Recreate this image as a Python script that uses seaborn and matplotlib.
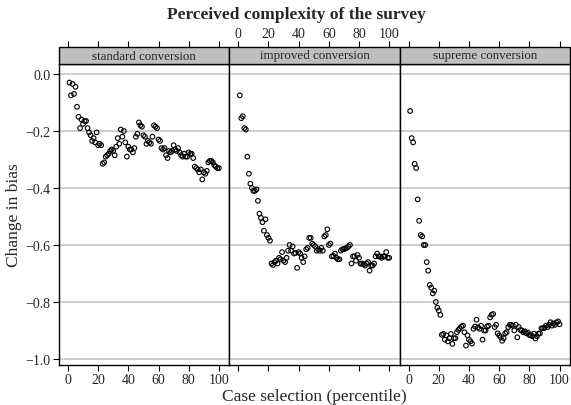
import matplotlib
matplotlib.use("Agg")
import matplotlib.pyplot as plt
from matplotlib.patches import Rectangle
import seaborn as sns
import pandas as pd

percentile = list(range(1, 101))

panels = ["standard conversion", "improved conversion", "supreme conversion"]

standard = [
    -0.030, -0.075, -0.035, -0.070, -0.045, -0.115, -0.150, -0.190, -0.160, -0.175,
    -0.165, -0.165, -0.190, -0.205, -0.215, -0.235, -0.225, -0.240, -0.205, -0.250,
    -0.245, -0.250, -0.315, -0.310, -0.290, -0.285, -0.280, -0.270, -0.265, -0.270,
    -0.285, -0.255, -0.225, -0.245, -0.195, -0.220, -0.200, -0.240, -0.290, -0.255,
    -0.265, -0.265, -0.275, -0.260, -0.220, -0.210, -0.170, -0.180, -0.185, -0.215,
    -0.220, -0.245, -0.235, -0.240, -0.245, -0.220, -0.180, -0.185, -0.190, -0.230,
    -0.235, -0.260, -0.265, -0.260, -0.285, -0.295, -0.270, -0.275, -0.270, -0.250,
    -0.265, -0.270, -0.260, -0.275, -0.285, -0.290, -0.280, -0.290, -0.290, -0.275,
    -0.280, -0.280, -0.295, -0.325, -0.330, -0.335, -0.345, -0.335, -0.370, -0.345,
    -0.350, -0.340, -0.310, -0.305, -0.305, -0.310, -0.320, -0.325, -0.330, -0.330,
]

improved = [
    -0.075, -0.155, -0.148, -0.190, -0.195, -0.290, -0.350, -0.385, -0.400, -0.410,
    -0.410, -0.405, -0.445, -0.490, -0.505, -0.520, -0.550, -0.510, -0.565, -0.575,
    -0.585, -0.665, -0.670, -0.660, -0.655, -0.665, -0.645, -0.650, -0.625, -0.655,
    -0.660, -0.645, -0.620, -0.600, -0.620, -0.605, -0.630, -0.628, -0.680, -0.625,
    -0.630, -0.645, -0.660, -0.640, -0.615, -0.610, -0.575, -0.575, -0.595, -0.600,
    -0.605, -0.620, -0.615, -0.620, -0.610, -0.620, -0.570, -0.565, -0.545, -0.600,
    -0.595, -0.640, -0.638, -0.630, -0.645, -0.650, -0.650, -0.620, -0.615, -0.615,
    -0.612, -0.610, -0.605, -0.600, -0.665, -0.640, -0.640, -0.655, -0.635, -0.645,
    -0.666, -0.665, -0.668, -0.672, -0.665, -0.660, -0.690, -0.672, -0.672, -0.665,
    -0.640, -0.630, -0.640, -0.640, -0.645, -0.640, -0.640, -0.625, -0.645, -0.645,
]

supreme = [
    -0.130, -0.225, -0.240, -0.315, -0.330, -0.440, -0.515, -0.565, -0.570, -0.600,
    -0.600, -0.660, -0.690, -0.740, -0.750, -0.770, -0.760, -0.800, -0.820, -0.830,
    -0.845, -0.915, -0.912, -0.932, -0.917, -0.938, -0.927, -0.912, -0.947, -0.927,
    -0.927, -0.906, -0.898, -0.892, -0.886, -0.883, -0.906, -0.953, -0.917, -0.932,
    -0.938, -0.946, -0.894, -0.886, -0.862, -0.889, -0.894, -0.883, -0.932, -0.900,
    -0.900, -0.886, -0.883, -0.854, -0.845, -0.842, -0.888, -0.880, -0.910, -0.917,
    -0.924, -0.936, -0.927, -0.910, -0.906, -0.888, -0.880, -0.880, -0.883, -0.900,
    -0.880, -0.924, -0.888, -0.898, -0.900, -0.906, -0.903, -0.910, -0.907, -0.916,
    -0.917, -0.920, -0.911, -0.928, -0.920, -0.911, -0.910, -0.892, -0.892, -0.891,
    -0.883, -0.888, -0.880, -0.871, -0.883, -0.875, -0.880, -0.872, -0.868, -0.878,
]

x_ticks = [0, 20, 40, 60, 80, 100]
y_ticks = [-1.0, -0.8, -0.6, -0.4, -0.2, 0.0]
y_ticklabels = ["\u22121.0", "\u22120.8", "\u22120.6", "\u22120.4", "\u22120.2", "0.0"]

df = pd.DataFrame({
    "percentile": percentile * 3,
    "bias": standard + improved + supreme,
    "conversion": [panels[0]] * 100 + [panels[1]] * 100 + [panels[2]] * 100,
})

sns.set_style("white")
plt.rcParams["font.family"] = ["Liberation Serif", "DejaVu Serif"]
plt.rcParams["axes.unicode_minus"] = True

W, H = 571, 406
g = sns.FacetGrid(df, col="conversion", col_order=panels, sharex=True, sharey=True,
                  height=3, aspect=0.6, despine=False)
g.map_dataframe(sns.scatterplot, x="percentile", y="bias", marker="o",
                facecolor="none", edgecolor="black", s=11, linewidth=0.8)
fig = g.figure
fig.set_size_inches(W / 100, H / 100)
fig.subplots_adjust(left=59 / W, right=570 / W, bottom=1 - 366 / H, top=1 - 65 / H, wspace=0)

TICK_FS = 10
strip_h = 17 / 301.0
for i, ax in enumerate(g.axes.flat):
    ax.set_title("")
    ax.set_xlabel("")
    ax.set_ylabel("")
    ax.set_xlim(-5.93, 106.93)
    ax.set_ylim(-1.021, 0.035)
    ax.set_yticks(y_ticks)
    ax.set_xticks(x_ticks)
    ax.grid(axis="y", color="#cccccc", linewidth=1.3)
    ax.grid(axis="x", visible=False)
    ax.set_axisbelow(True)
    for sp in ax.spines.values():
        sp.set_color("black")
        sp.set_linewidth(1.0)
    ax.tick_params(axis="x", direction="out", length=4, width=0.8, color="black",
                   labelsize=TICK_FS, pad=2, labelbottom=(i != 1), bottom=True)
    if i == 0:
        ax.set_yticklabels(y_ticklabels)
        ax.tick_params(axis="y", direction="out", length=4, width=0.8, color="black",
                       labelsize=TICK_FS, pad=2, left=True, labelleft=True)
    else:
        ax.tick_params(axis="y", left=False, labelleft=False)
    ax.add_patch(Rectangle((0, 1), 1, strip_h, transform=ax.transAxes, clip_on=False,
                           facecolor="#bfbfbf", edgecolor="black", linewidth=1.0, zorder=5))
    ax.text(0.5, 1 + strip_h / 2, panels[i], transform=ax.transAxes, ha="center",
            va="center", fontsize=9.4, zorder=6)
    sec = ax.secondary_xaxis(1 + strip_h)
    sec.set_xticks(x_ticks)
    sec.spines["top"].set_visible(False)
    sec.tick_params(axis="x", direction="out", length=4, width=0.8, color="black",
                    labelsize=TICK_FS, pad=1, labeltop=(i == 1))

fig.text(296 / W, 1 - 15 / H, "Perceived complexity of the survey", ha="center",
         va="center", fontsize=12.5, fontweight="bold")
fig.text(314 / W, 1 - 397 / H, "Case selection (percentile)", ha="center",
         va="center", fontsize=12.5)
fig.text(14 / W, 1 - 215 / H, "Change in bias", ha="center", va="center",
         rotation=90, fontsize=12.5)

fig.savefig("out.png", dpi=100)
